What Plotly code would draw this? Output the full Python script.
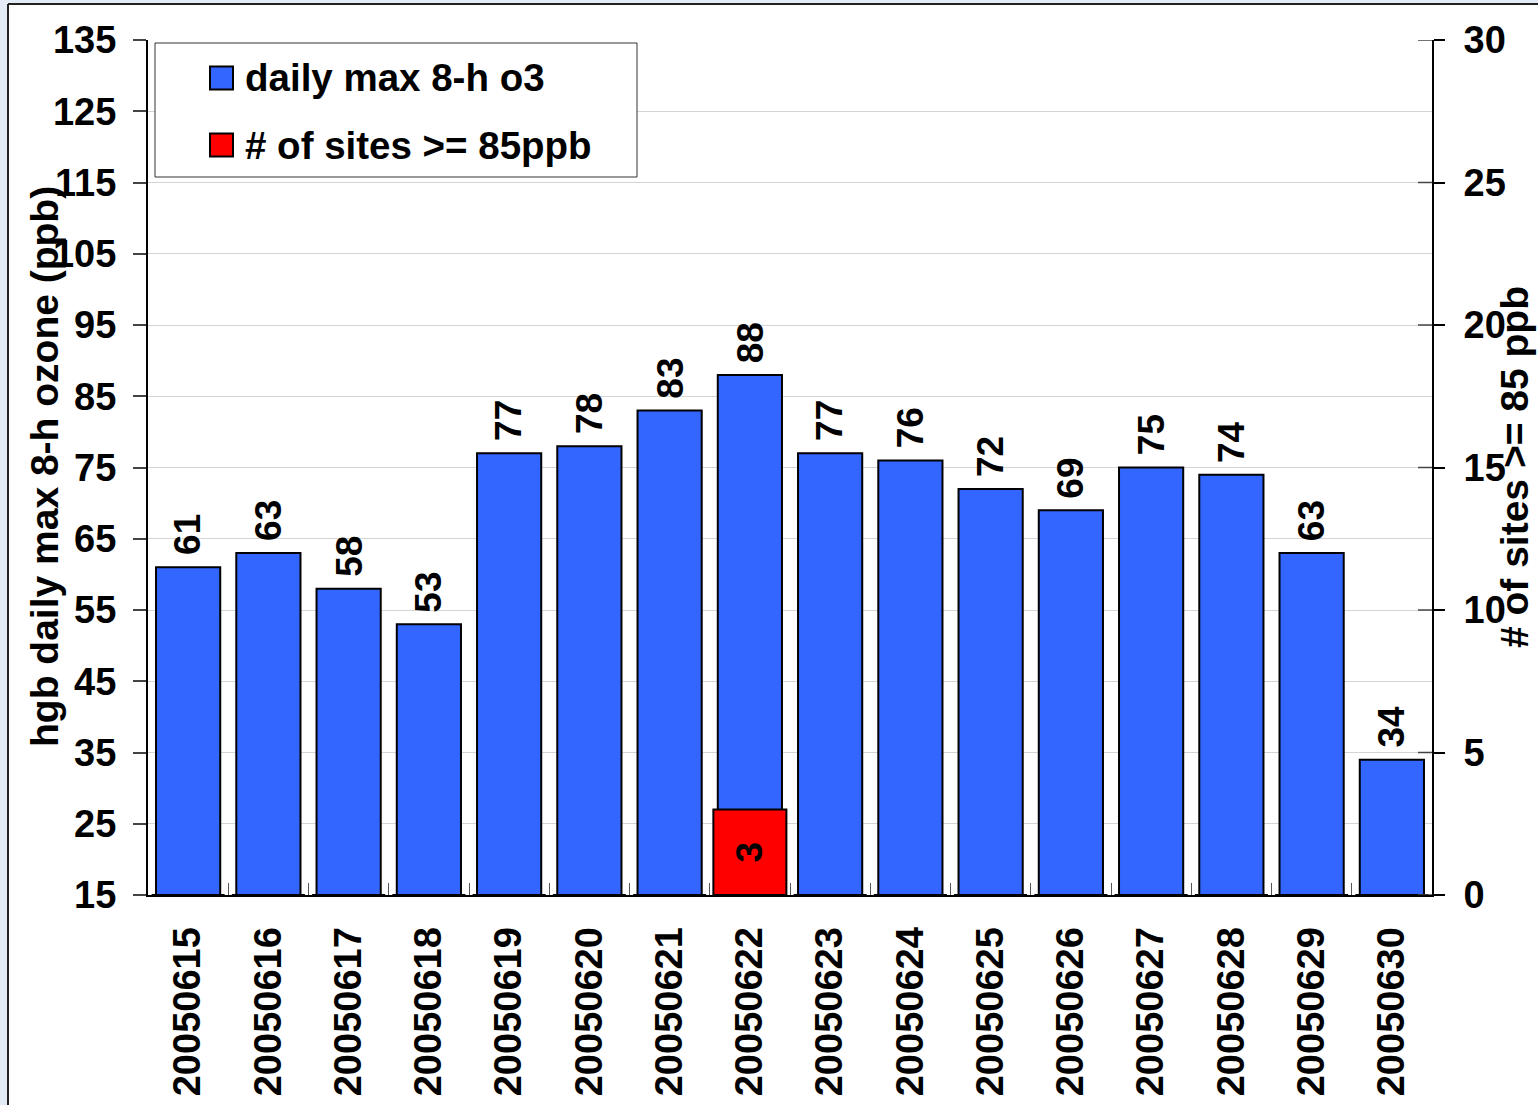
import plotly.graph_objects as go

dates = ["20050615", "20050616", "20050617", "20050618", "20050619", "20050620",
         "20050621", "20050622", "20050623", "20050624", "20050625", "20050626",
         "20050627", "20050628", "20050629", "20050630"]
ozone = [61, 63, 58, 53, 77, 78, 83, 88, 77, 76, 72, 69, 75, 74, 63, 34]
sites = [0, 0, 0, 0, 0, 0, 0, 3, 0, 0, 0, 0, 0, 0, 0, 0]
left_ticks = list(range(15, 136, 10))
right_ticks = list(range(0, 31, 5))
name_ozone = "daily max 8-h o3"
name_sites = "# of sites >= 85ppb"
left_title = "hgb daily max 8-h ozone (ppb)"
right_title = "# of sites >= 85 ppb"

BLUE = "#3366FF"
RED = "#FF0000"
FONT = "Liberation Sans"

W, H = 1538, 1105
L, R, T, B = 148, 1432, 40, 895


def px(xp):
    return (xp - L) / (R - L)


def py(yp):
    return (B - yp) / (B - T)


fig = go.Figure()
fig.add_trace(go.Bar(
    x=dates, y=ozone, name=name_ozone, yaxis="y",
    marker=dict(color=BLUE, line=dict(color="black", width=2)),
    width=0.8, showlegend=False, hoverinfo="x+y",
))
fig.add_trace(go.Bar(
    x=dates, y=sites, name=name_sites, yaxis="y2",
    marker=dict(color=RED, line=dict(color="black", width=2)),
    width=0.91,
    text=[str(v) if v > 0 else "" for v in sites], textposition="inside",
    insidetextanchor="middle", textangle=-90,
    textfont=dict(family=FONT, size=37, color="black", weight="bold"),
    constraintext="none", showlegend=False, hoverinfo="x+y",
))

tickfont = dict(family=FONT, size=38, color="black", weight="bold")

fig.update_layout(
    width=W, height=H,
    margin=dict(l=L, r=W - R, t=T, b=H - B, pad=0, autoexpand=False),
    paper_bgcolor="white", plot_bgcolor="white",
    font=dict(family=FONT, size=38, color="black", weight="bold"),
    barmode="overlay",
    showlegend=False,
    xaxis=dict(
        type="category", range=[-0.5, len(dates) - 0.5], automargin=False,
        showline=True, linecolor="black", linewidth=2,
        ticks="inside", tickson="boundaries", ticklen=12, tickcolor="#555555", tickwidth=1,
        tickangle=-90, tickfont=tickfont, ticklabelstandoff=15,
        showgrid=False, zeroline=False,
    ),
    yaxis=dict(
        range=[15, 135], tickvals=left_ticks, ticktext=[str(v) for v in left_ticks],
        automargin=False,
        showline=True, linecolor="black", linewidth=2,
        ticks="outside", ticklen=13, tickcolor="#444444", tickwidth=1.5,
        tickfont=tickfont, ticklabelstandoff=9,
        showgrid=True, gridcolor="#d4d4d4", gridwidth=1, zeroline=False,
    ),
    yaxis2=dict(
        range=[0, 30], tickvals=right_ticks, ticktext=[str(v) for v in right_ticks],
        overlaying="y", side="right", anchor="x", automargin=False,
        showline=True, linecolor="black", linewidth=2,
        ticks="outside", ticklen=11, tickcolor="black", tickwidth=1.5,
        tickfont=tickfont, ticklabelstandoff=11,
        showgrid=False, zeroline=False,
    ),
)

shapes = []
annotations = []
# value labels above the ozone bars (data coordinates; category index on x)
for i, v in enumerate(ozone):
    annotations.append(dict(xref="x", yref="y", x=i, y=v, text=str(v), textangle=-90,
                            showarrow=False, xanchor="center", yanchor="bottom", yshift=10,
                            font=dict(family=FONT, size=37, color="black", weight="bold")))

# inner half of the right-axis cross ticks
for t in right_ticks:
    shapes.append(dict(type="line", xref="paper", yref="y2", x0=px(R - 14), x1=1, y0=t, y1=t,
                       line=dict(color="#444444", width=1.5)))

# outer frame of the slide
shapes.append(dict(type="rect", xref="paper", yref="paper", x0=px(0), x1=px(8), y0=py(H), y1=py(0),
                   fillcolor="#e3ebf6", line=dict(width=0), layer="below"))
shapes.append(dict(type="rect", xref="paper", yref="paper", x0=px(0), x1=px(W), y0=py(4), y1=py(0),
                   fillcolor="#e3ebf6", line=dict(width=0), layer="below"))
shapes.append(dict(type="line", xref="paper", yref="paper", x0=px(8), x1=px(W), y0=py(4), y1=py(4),
                   line=dict(color="#222222", width=2)))
shapes.append(dict(type="line", xref="paper", yref="paper", x0=px(8), x1=px(8), y0=py(4), y1=py(H),
                   line=dict(color="#222222", width=2)))

# legend box
shapes.append(dict(type="rect", xref="paper", yref="paper", x0=px(155), x1=px(637), y0=py(177), y1=py(43),
                   fillcolor="white", line=dict(color="#333333", width=1)))
for cy, col, label in [(78, BLUE, name_ozone), (145, RED, name_sites)]:
    shapes.append(dict(type="rect", xref="paper", yref="paper", x0=px(210), x1=px(233),
                       y0=py(cy + 11.5), y1=py(cy - 11.5), fillcolor=col,
                       line=dict(color="black", width=2)))
    annotations.append(dict(xref="paper", yref="paper", x=px(243), y=py(cy), text=label,
                            showarrow=False, xanchor="left", yanchor="middle",
                            font=dict(family=FONT, size=38.5, color="black", weight="bold")))

# axis titles
annotations.append(dict(xref="paper", yref="paper", x=px(45), y=py(467), text=left_title,
                        textangle=-90, showarrow=False, xanchor="center", yanchor="middle",
                        font=dict(family=FONT, size=39, color="black", weight="bold")))
annotations.append(dict(xref="paper", yref="paper", x=px(1515), y=py(467), text=right_title,
                        textangle=-90, showarrow=False, xanchor="center", yanchor="middle",
                        font=dict(family=FONT, size=39, color="black", weight="bold")))

fig.update_layout(shapes=shapes, annotations=annotations)

fig.write_html("out.html", config={"displayModeBar": False},
               post_script="document.body.style.margin='0';")
